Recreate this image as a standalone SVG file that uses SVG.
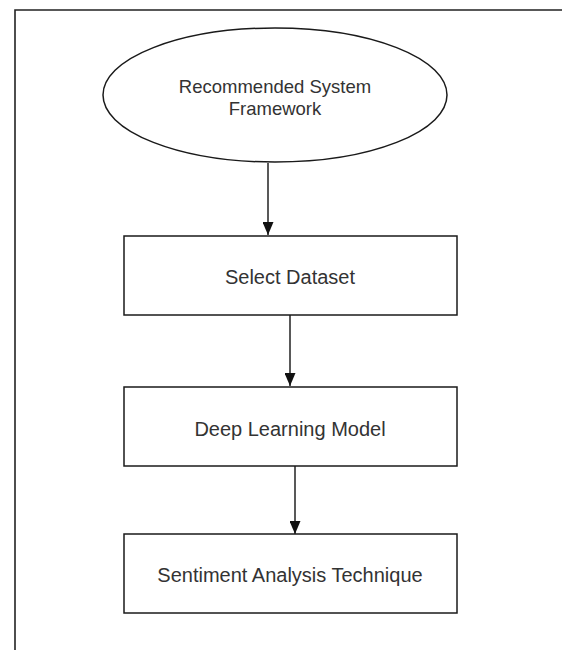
<svg xmlns="http://www.w3.org/2000/svg" width="562" height="650" viewBox="0 0 562 650">
  <style>
    .shape { fill: #ffffff; stroke: #1a1a1a; stroke-width: 1.5; }
    .label { font-family: "Liberation Sans", Arial, sans-serif; font-size: 20px; fill: #333333; text-anchor: middle; }
    .title { font-size: 18.5px; }
    .edge { fill: none; stroke: #222222; stroke-width: 1.5; }
    .frame { fill: none; stroke: #222222; stroke-width: 1.6; }
  </style>
  <defs>
    <marker id="arrow" viewBox="0 0 10 10" refX="10" refY="5" markerWidth="13" markerHeight="11" markerUnits="userSpaceOnUse" orient="auto" preserveAspectRatio="none">
      <path d="M0,0 L10,5 L0,10 Z" fill="#111111"/>
    </marker>
  </defs>
  <rect x="0" y="0" width="562" height="650" fill="#ffffff"/>
  <!-- page frame: top and left edges -->
  <path class="frame" d="M562,10 H15 V650"/>

  <g id="connectors">
    <path class="edge" d="M268,163 V235" marker-end="url(#arrow)"/>
    <path class="edge" d="M290,315 V386" marker-end="url(#arrow)"/>
    <path class="edge" d="M295,466 V534" marker-end="url(#arrow)"/>
  </g>

  <g id="node-framework">
    <ellipse class="shape" cx="275" cy="95" rx="172" ry="67"/>
    <text class="label title" x="275" y="93">Recommended System</text>
    <text class="label title" x="275" y="115">Framework</text>
  </g>

  <g id="node-dataset">
    <rect class="shape" x="124" y="236" width="333" height="79"/>
    <text class="label" x="290" y="284">Select Dataset</text>
  </g>

  <g id="node-model">
    <rect class="shape" x="124" y="387" width="333" height="79"/>
    <text class="label" x="290" y="436">Deep Learning Model</text>
  </g>

  <g id="node-sentiment">
    <rect class="shape" x="124" y="534" width="333" height="79"/>
    <text class="label" x="290" y="582">Sentiment Analysis Technique</text>
  </g>
</svg>
